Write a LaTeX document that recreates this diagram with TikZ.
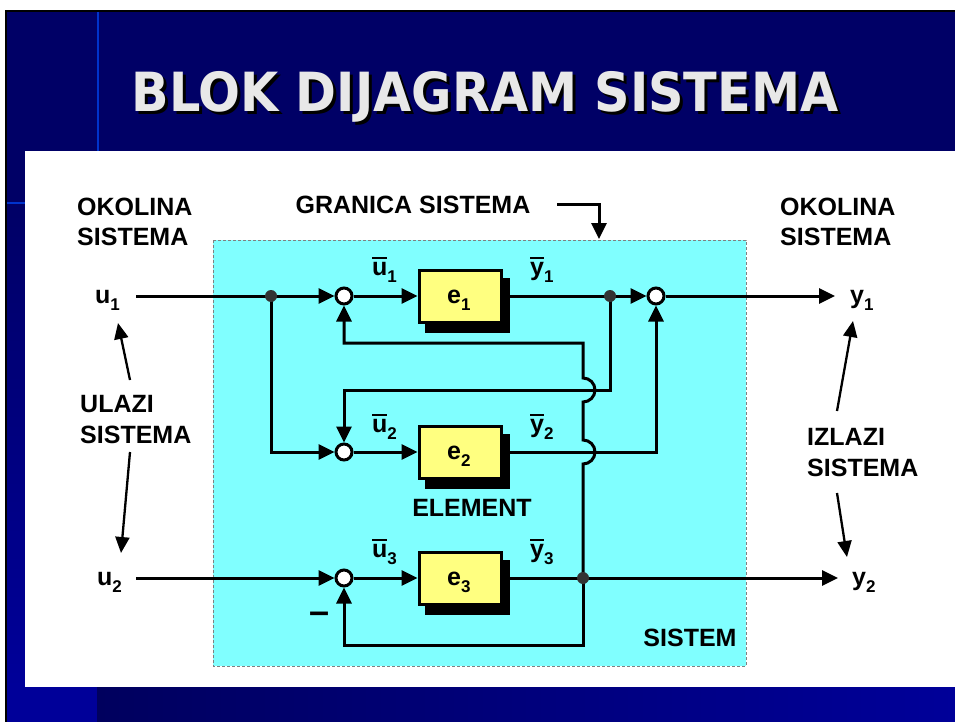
\documentclass[tikz,border=0pt]{standalone}
\usepackage{fontspec}
\setmainfont{Liberation Sans}
\newfontfamily\titlefont{DejaVu Sans}
\usetikzlibrary{arrows.meta}
\definecolor{navy}{HTML}{000066}
\definecolor{navyd}{HTML}{00005E}
\definecolor{navyb}{HTML}{000099}
\definecolor{bline}{HTML}{0033CC}
\definecolor{sysc}{HTML}{80FFFF}
\definecolor{elc}{HTML}{FFFF80}
\definecolor{ttl}{HTML}{E8E8E8}
\definecolor{dotc}{HTML}{333333}
\newcommand\sbs[1]{\raisebox{-0.3em}{\fontsize{17}{17}\selectfont #1}}
\newlength\ovlw
\newcommand\ovl[1]{\settowidth\ovlw{#1}\rlap{\rule[0.66em]{\ovlw}{1.6pt}}#1}
\begin{document}
\begin{tikzpicture}[x=1pt,y=-1pt,
  wire/.style={line width=3pt},
  arr/.style={wire,-{Triangle[length=16pt,width=15pt]}},
  ptr/.style={line width=2.3pt,-{Triangle[length=16pt,width=14pt]}},
  sumj/.style={circle,draw,line width=3pt,fill=white,minimum size=16pt,inner sep=0pt},
  dotj/.style={circle,fill=dotc,minimum size=12pt,inner sep=0pt},
  elem/.style={draw,line width=3pt,fill=elc,minimum width=82pt,minimum height=52pt,inner sep=0pt},
  elshadow/.style={fill=black,minimum width=85pt,minimum height=55pt,inner sep=0pt},
  lab/.style={font=\bfseries\fontsize{25}{31}\selectfont,inner sep=0pt},
  ttlstyle/.style={font=\titlefont\bfseries\fontsize{54}{60}\selectfont,inner sep=0pt}]
\useasboundingbox (0,0) rectangle (955,722);
% background
\fill[white] (0,0) rectangle (955,722);
\fill[navy] (7,12) rectangle (955,722);
\shade[top color=navy,bottom color=navyb] (7,203) rectangle (25,687);
\fill[navyb] (7,687) rectangle (97,722);
\shade[left color=navyd,right color=navyb] (97,687) rectangle (955,722);
\draw[black,line width=2.5pt] (6,722) -- (6,11) -- (955,11);
\draw[bline,line width=2pt] (98,12) -- (98,151);
\draw[bline,line width=2pt] (7,203) -- (25,203);
\fill[white] (25,151) rectangle (955,687);
% title
\node[ttlstyle,text=black] (ttlsh) at (488,100) {\scalebox{0.913}[1]{BLOK DIJAGRAM SISTEMA}};
\node[ttlstyle,text=ttl] (ttl) at (485,97) {\scalebox{0.913}[1]{BLOK DIJAGRAM SISTEMA}};
% system boundary
\draw[densely dashed,gray,line width=1pt,fill=sysc] (213,240) rectangle (746,666);
% labels outside
\node[lab,anchor=north west,align=left] (okl) at (77,198) {OKOLINA\\[-1pt]SISTEMA};
\node[lab,anchor=north west,align=left] (okr) at (780,198) {OKOLINA\\[-1pt]SISTEMA};
\node[lab,anchor=north west,align=left] (ulazi) at (80,395) {ULAZI\\SISTEMA};
\node[lab,anchor=north west,align=left] (izlazi) at (807,428) {IZLAZI\\SISTEMA};
\node[lab] (gran) at (413,205) {GRANICA SISTEMA};
\node[lab] (elemlab) at (472,508) {ELEMENT};
\node[lab] (sistem) at (690,638) {SISTEM};
\node[lab,anchor=base west] (u1) at (95,303) {u\sbs{1}};
\node[lab,anchor=base west] (u2) at (97,585) {u\sbs{2}};
\node[lab,anchor=base west] (y1) at (850,303) {y\sbs{1}};
\node[lab,anchor=base west] (y2) at (852,585) {y\sbs{2}};
\node[lab,anchor=base west] (ub1) at (372,275) {\ovl{u}\sbs{1}};
\node[lab,anchor=base west] (yb1) at (530,275) {\ovl{y}\sbs{1}};
\node[lab,anchor=base west] (ub2) at (372,432) {\ovl{u}\sbs{2}};
\node[lab,anchor=base west] (yb2) at (530,432) {\ovl{y}\sbs{2}};
\node[lab,anchor=base west] (ub3) at (372,557) {\ovl{u}\sbs{3}};
\node[lab,anchor=base west] (yb3) at (530,557) {\ovl{y}\sbs{3}};
\node[lab,font=\bfseries\fontsize{36}{36}\selectfont] (minus) at (320,618) {–};
% elements
\node[elshadow] (sh1) at (467,305) {};
\node[elshadow] (sh2) at (467,461) {};
\node[elshadow] (sh3) at (467,587) {};
\node[elem] (e1) at (460,296) {};
\node[elem] (e2) at (460,452) {};
\node[elem] (e3) at (460,578) {};
\node[lab,anchor=base west] (e1t) at (447,303) {e\sbs{1}};
\node[lab,anchor=base west] (e2t) at (447,459) {e\sbs{2}};
\node[lab,anchor=base west] (e3t) at (447,585) {e\sbs{3}};
% junctions
\node[sumj] (s1) at (344,296) {};
\node[sumj] (s2) at (344,452) {};
\node[sumj] (s3) at (344,578) {};
\node[sumj] (s4) at (656,296) {};
\coordinate (p0) at (271,296);
\coordinate (p1) at (610,296);
\coordinate (p3) at (583,578);
\coordinate (u1s) at (136,296);
\coordinate (u2s) at (136,578);
\coordinate (y1t) at (835,296);
\coordinate (y2t) at (838,578);
\coordinate (k1) at (344,390);
\coordinate (k2) at (344,343);
\coordinate (k3) at (344,645);
% wires
\draw[wire] (u1s) -- (p0);
\draw[arr] (p0) -- (s1);
\draw[arr] (s1) -- (e1);
\draw[wire] (e1) -- (p1);
\draw[arr] (p1) -- (s4);
\draw[arr] (s4) -- (y1t);
\draw[arr] (p0) |- (s2);
\draw[arr] (s2) -- (e2);
\draw[arr] (e2) -| (s4);
\draw[arr] (p1) |- (k1) -- (s2);
\draw[arr] (u2s) -- (s3);
\draw[arr] (s3) -- (e3);
\draw[wire] (e3) -- (p3);
\draw[arr] (p3) -- (y2t);
\draw[arr] (p3) |- (k3) -- (s3);
\draw[arr] (p3) -- (583,464) arc[start angle=90,end angle=-90,radius=12]
  -- (583,402) arc[start angle=90,end angle=-90,radius=12] |- (k2) -- (s1);
\node[dotj] (d0) at (p0) {};
\node[dotj] (d1) at (p1) {};
\node[dotj] (d3) at (p3) {};
% pointers
\coordinate (g1) at (557,204);
\coordinate (g2) at (599,239);
\draw[wire,-{Triangle[length=16pt,width=15pt]}] (g1) -| (g2);
\coordinate (pa1) at (130,380); \coordinate (pa2) at (118,323);
\coordinate (pb1) at (130,452); \coordinate (pb2) at (121,553);
\coordinate (pc1) at (837,411); \coordinate (pc2) at (853,321);
\coordinate (pd1) at (837,493); \coordinate (pd2) at (847,557);
\draw[ptr] (pa1) -- (pa2);
\draw[ptr] (pb1) -- (pb2);
\draw[ptr] (pc1) -- (pc2);
\draw[ptr] (pd1) -- (pd2);
\end{tikzpicture}
\end{document}
